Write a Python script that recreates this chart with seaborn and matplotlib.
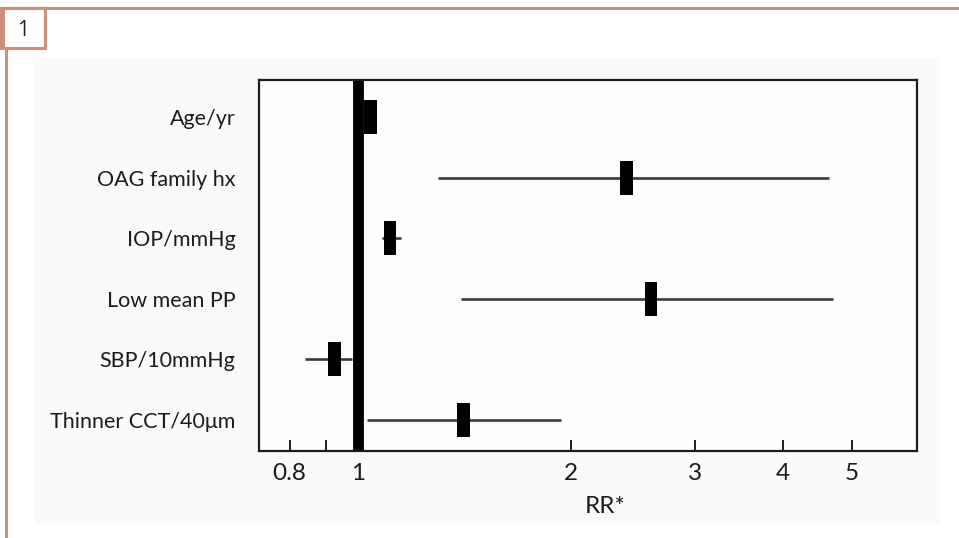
import numpy as np
import pandas as pd
import matplotlib.pyplot as plt
import seaborn as sns
from matplotlib.lines import Line2D
from matplotlib.patches import Rectangle
from matplotlib.ticker import FixedLocator, NullFormatter

# data
factors = ['Age/yr', 'OAG family hx', 'IOP/mmHg', 'Low mean PP',
           'SBP/10mmHg', 'Thinner CCT/40\u03bcm']
rr = [1.04, 2.40, 1.11, 2.60, 0.925, 1.41]
ci_low = [1.03, 1.30, 1.08, 1.40, 0.84, 1.03]
ci_high = [1.05, 4.65, 1.15, 4.70, 0.98, 1.94]
xticks = [0.8, 1, 2, 3, 4, 5]
xtick_labels = ['0.8', '1', '2', '3', '4', '5']

FRAME = '#c9917a'
INK = '#1c1c1c'


def px(x, y, W=959, H=538):
   """pixel (from top-left) -> figure fraction"""
   return x / W, 1 - y / H


def decorate(fig):
   """Page frame around the chart, like the source figure."""
   x0, y0 = px(35, 524)
   x1, y1 = px(940, 58)
   fig.add_artist(Rectangle((x0, y0), x1 - x0, y1 - y0, transform=fig.transFigure,
                            facecolor='#fafafa', edgecolor='none', zorder=-10))
   # top rule and left rule
   fig.add_artist(Line2D([0, 1], [px(0, 8)[1]] * 2, transform=fig.transFigure,
                         color=FRAME, lw=2.2))
   fig.add_artist(Line2D([px(6, 0)[0]] * 2, [0, px(0, 48)[1]], transform=fig.transFigure,
                         color=FRAME, lw=2.2))
   # number box
   bx0, by0 = px(1, 48)
   bx1, by1 = px(45, 8)
   fig.add_artist(Rectangle((bx0, by0), bx1 - bx0, by1 - by0, transform=fig.transFigure,
                            facecolor='white', edgecolor=FRAME, lw=2.2))
   sx0, _ = px(0, 0)
   sx1, _ = px(5, 0)
   fig.add_artist(Rectangle((sx0, by0), sx1 - sx0, by1 - by0, transform=fig.transFigure,
                            facecolor=FRAME, edgecolor='none'))
   tx, ty = px(23, 30)
   fig.text(tx, ty, '1', ha='center', va='center', fontsize=15, color='#222222',
            family=['Open Sans', 'DejaVu Sans'])


def main():
   sns.set_theme(style='white')
   plt.rcParams['font.family'] = ['Lato', 'DejaVu Sans']

   df = pd.DataFrame({'factor': factors, 'rr': rr, 'lo': ci_low, 'hi': ci_high})
   df['row'] = np.arange(len(df))

   fig = plt.figure(figsize=(9.59, 5.38), dpi=100)
   fig.patch.set_facecolor('white')
   decorate(fig)
   ax = fig.add_axes([259 / 959, 1 - 451 / 538, (917 - 259) / 959, (451 - 80) / 538])
   ax.set_facecolor('#fdfdfd')

   ax.set_xscale('log')
   ax.axvline(1, color='black', lw=7.8, zorder=2)
   ax.hlines(df['row'], df['lo'], df['hi'], color='#3a3a3a', lw=1.9, zorder=3)
   box = [(-0.19, -0.5), (0.19, -0.5), (0.19, 0.5), (-0.19, 0.5), (-0.19, -0.5)]
   sns.scatterplot(data=df, x='rr', y='row', marker=box, s=600, color='black',
                   edgecolor='none', linewidth=0, ax=ax, zorder=4, legend=False)

   ax.set_xlim(0.724, 6.19)
   ax.set_ylim(5.51, -0.61)
   ax.xaxis.set_major_locator(FixedLocator(xticks))
   ax.set_xticklabels(xtick_labels)
   ax.xaxis.set_minor_locator(FixedLocator([0.9]))
   ax.xaxis.set_minor_formatter(NullFormatter())
   ax.set_yticks(df['row'], df['factor'])

   ax.tick_params(axis='x', which='both', direction='in', length=8, width=1.4,
                  color=INK, bottom=True, labelsize=17.5, pad=9, labelcolor=INK)
   ax.tick_params(axis='y', length=0, labelsize=15.5, pad=17, labelcolor=INK)
   for s in ax.spines.values():
      s.set_color(INK)
      s.set_linewidth(1.6)

   ax.set_xlabel('RR*', fontsize=17.5, color=INK)
   ax.set_ylabel('')
   ax.xaxis.set_label_coords(0.526, -0.122)

   fig.savefig('out.png', dpi=100, facecolor='white')


if __name__ == '__main__':
   main()
